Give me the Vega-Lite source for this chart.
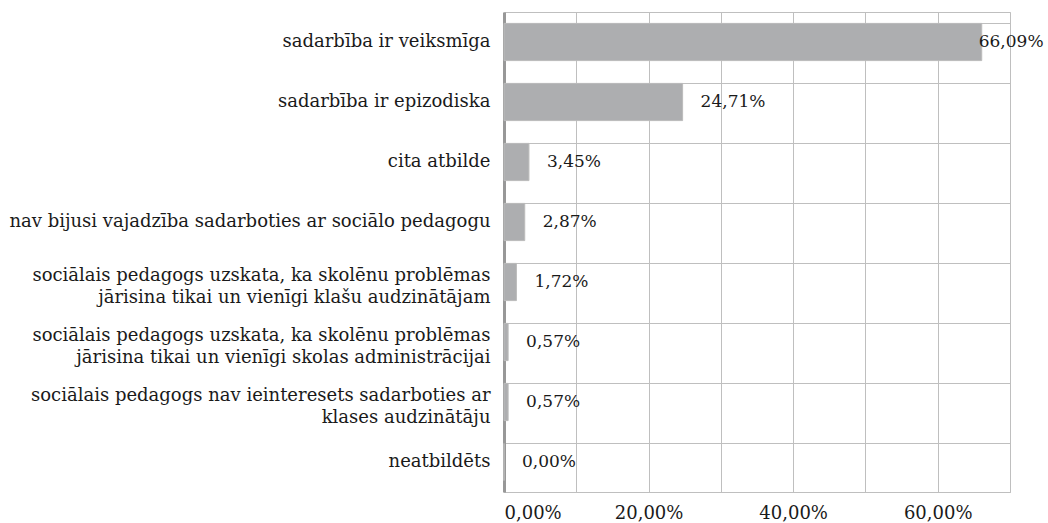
{
  "$schema": "https://vega.github.io/schema/vega-lite/v6.json",
  "width": 506,
  "height": 480,
  "autosize": {"type": "none"},
  "padding": {"left": 504, "top": 12, "right": 38, "bottom": 31},
  "background": "white",
  "config": {
    "locale": {"number": {"decimal": ",", "thousands": " ", "grouping": [3], "currency": ["", " €"]}},
    "view": {"stroke": "#BFBFBF", "strokeWidth": 1},
    "font": "DejaVu Serif"
  },
  "data": {
    "values": [
      {"atbilde": "sadarbība ir veiksmīga", "v": 0.6609},
      {"atbilde": "sadarbība ir epizodiska", "v": 0.2471},
      {"atbilde": "cita atbilde", "v": 0.0345},
      {"atbilde": "nav bijusi vajadzība sadarboties ar sociālo pedagogu", "v": 0.0287},
      {"atbilde": "sociālais pedagogs uzskata, ka skolēnu problēmas\njārisina tikai un vienīgi klašu audzinātājam", "v": 0.0172},
      {"atbilde": "sociālais pedagogs uzskata, ka skolēnu problēmas\njārisina tikai un vienīgi skolas administrācijai", "v": 0.0057},
      {"atbilde": "sociālais pedagogs nav ieinteresets sadarboties ar\nklases audzinātāju", "v": 0.0057},
      {"atbilde": "neatbildēts", "v": 0.0}
    ]
  },
  "encoding": {
    "y": {
      "field": "atbilde",
      "type": "nominal",
      "sort": null,
      "title": null,
      "scale": {"paddingInner": 0.38, "paddingOuter": 0.19},
      "axis": {
        "labelExpr": "split(datum.label, '\\n')",
        "labelLimit": 600,
        "labelFont": "DejaVu Serif",
        "labelFontSize": 18,
        "labelColor": "#1a1a1a",
        "labelLineHeight": 22,
        "labelPadding": 14,
        "labelOffset": {"condition": {"test": "indexof(datum.label, '\\n') >= 0", "value": -6}, "value": 0},
        "ticks": false,
        "domainColor": "#989898",
        "domainWidth": 3,
        "grid": true,
        "gridColor": "#BFBFBF",
        "gridWidth": 1,
        "bandPosition": 0
      }
    },
    "x": {
      "field": "v",
      "type": "quantitative",
      "title": null,
      "scale": {"domain": [0, 0.7], "nice": false},
      "axis": {
        "values": [0, 0.1, 0.2, 0.3, 0.4, 0.5, 0.6, 0.7],
        "labelExpr": "(round(datum.value*100) % 20 == 0 && datum.value < 0.65) ? datum.label : ''",
        "format": ".2%",
        "labelFont": "DejaVu Serif",
        "labelFontSize": 18,
        "labelColor": "#1a1a1a",
        "labelPadding": 12,
        "ticks": false,
        "domainColor": "#BFBFBF",
        "gridColor": "#BFBFBF",
        "gridWidth": 1
      }
    }
  },
  "layer": [
    {
      "mark": {"type": "bar", "color": "#ADAEB0", "stroke": "#BBBBBB", "strokeWidth": 1}
    },
    {
      "transform": [{"filter": "datum.v < 0.6"}],
      "mark": {"type": "text", "align": "left", "baseline": "middle", "dx": 18, "font": "DejaVu Serif", "fontSize": 17, "color": "#1a1a1a"},
      "encoding": {"text": {"field": "v", "type": "quantitative", "format": ".2%"}}
    },
    {
      "transform": [{"filter": "datum.v >= 0.6"}],
      "mark": {"type": "text", "align": "left", "baseline": "middle", "dx": -3, "font": "DejaVu Serif", "fontSize": 17, "color": "#1a1a1a"},
      "encoding": {"text": {"field": "v", "type": "quantitative", "format": ".2%"}}
    }
  ]
}
